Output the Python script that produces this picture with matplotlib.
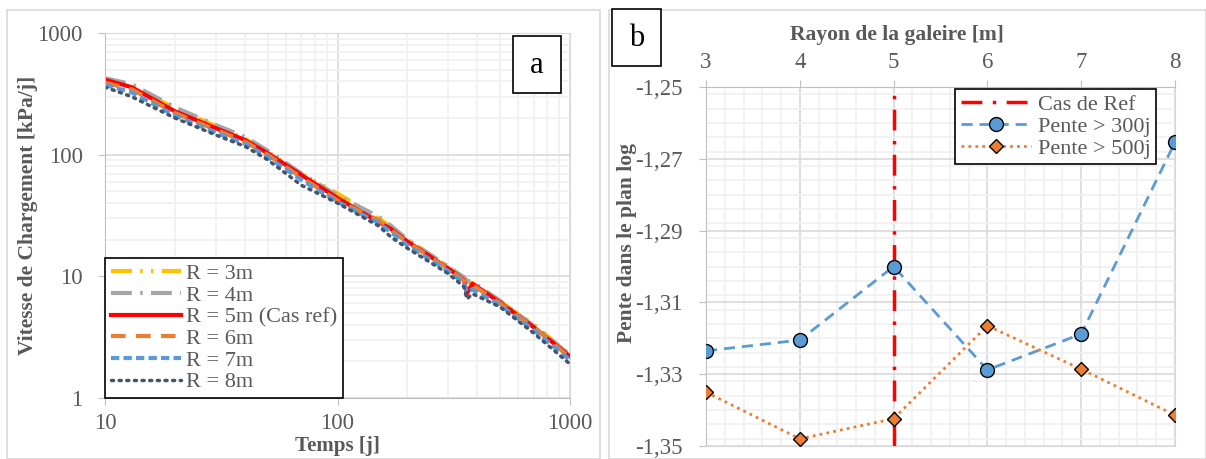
import matplotlib
matplotlib.use('Agg')
import matplotlib.pyplot as plt
from matplotlib.patches import Rectangle
from matplotlib.ticker import LogLocator, FixedLocator, MultipleLocator, FuncFormatter, NullFormatter

plt.rcParams['font.family'] = ['Liberation Serif', 'DejaVu Serif']

#Data of panel a : loading rate vs time for each gallery radius
temps = [10, 13, 20, 30, 40, 50, 70, 100, 150, 170, 200, 300, 350, 360, 380, 500, 700, 1000]
r3 = [410, 370, 240, 172, 135, 106, 69, 48, 30, 25.5, 20, 12, 9.6, 9.0, 8.8, 6.2, 4.0, 2.25]
r4 = [425, 380, 245, 175, 140, 108, 70, 46, 31, 26, 20, 12, 9.8, 9.2, 9.0, 6.3, 3.9, 2.25]
r5 = [413, 359, 227, 165, 132, 103, 68, 44, 28, 24.5, 19.3, 11.6, 9.3, 7.2, 8.7, 6.1, 3.8, 2.2]
r6 = [390, 345, 220, 160, 128, 100, 65, 42, 29, 24, 19, 11.5, 9.2, 8.5, 8.5, 6.0, 3.8, 2.15]
r7 = [375, 325, 210, 152, 123, 96, 62, 41, 27.5, 23, 18, 11, 8.8, 7.5, 7.8, 5.8, 3.6, 2.05]
r8 = [359, 300, 200, 145, 117, 91, 56, 40, 26, 21, 17, 10.5, 8.2, 6.5, 7.2, 5.6, 3.4, 1.9]

#Data of panel b : slope in log plane vs radius
rayon = [3, 4, 5, 6, 7, 8]
pente300 = [-1.3235, -1.3205, -1.300, -1.3288, -1.3188, -1.2654]
pente500 = [-1.335, -1.348, -1.3424, -1.3165, -1.3286, -1.3414]
pente_ticks = [-1.35, -1.33, -1.31, -1.29, -1.27, -1.25]

txtgray = '#595959'
W, H = 1206, 459
fig = plt.figure(figsize=(W/100, H/100), dpi=100)

#panel frames
fig.patches.append(Rectangle((7/W, 0), 593/W, 1 - 10/H, transform=fig.transFigure,
                             fill=False, edgecolor='#D9D9D9', lw=1.2))
fig.patches.append(Rectangle((609/W, 0), 597/W, 1 - 10/H, transform=fig.transFigure,
                             fill=False, edgecolor='#D9D9D9', lw=1.2))

###########################################################################
# panel a
ax1 = fig.add_axes([105/W, 1 - 398/H, 465/W, 365/H])
ax1.set_xscale('log')
ax1.set_yscale('log')
ax1.set_xlim(10, 1000)
ax1.set_ylim(1, 1000)

ax1.plot(temps, r3, color='#FFC000', lw=3, ls=(0, (5, 2, 0.6, 2, 0.6, 2)), label='R = 3m')
ax1.plot(temps, r4, color='#A5A5A5', lw=3, ls=(0, (5, 2, 0.6, 2)), label='R = 4m')
ax1.plot(temps, r5, color='#FF0000', lw=3, label='R = 5m (Cas ref)')
ax1.plot(temps, r6, color='#ED7D31', lw=3, ls=(0, (3.5, 2.5)), label='R = 6m')
ax1.plot(temps, r7, color='#5B9BD5', lw=3, ls=(0, (2, 1)), label='R = 7m')
ax1.plot(temps, r8, color='#44546A', lw=2.5, ls=(0, (0.6, 1.6)), dash_capstyle='round', label='R = 8m')

ax1.xaxis.set_minor_locator(LogLocator(base=10, subs=range(2, 10)))
ax1.yaxis.set_minor_locator(LogLocator(base=10, subs=range(2, 10)))
ax1.xaxis.set_minor_formatter(NullFormatter())
ax1.yaxis.set_minor_formatter(NullFormatter())
ax1.xaxis.set_major_formatter(FuncFormatter(lambda v, p: '%d' % v))
ax1.yaxis.set_major_formatter(FuncFormatter(lambda v, p: '%d' % v))
ax1.grid(True, which='major', color='#D9D9D9', lw=1.2)
ax1.grid(True, which='minor', color='#F0F0F0', lw=1.2)
ax1.set_axisbelow(True)
for s in ax1.spines.values():
    s.set_color('#D9D9D9')
ax1.spines['left'].set_color('#BFBFBF')
ax1.spines['bottom'].set_color('#BFBFBF')
ax1.tick_params(which='major', length=5, color='#BFBFBF', labelsize=16.5, labelcolor=txtgray)
ax1.tick_params(axis='x', which='major', pad=6)
ax1.tick_params(axis='y', which='major', pad=11)
ax1.tick_params(which='minor', length=0)
ax1.set_xlabel('Temps [j]', fontsize=15, fontweight='bold', color=txtgray, labelpad=1)
ax1.set_ylabel('Vitesse de Chargement [kPa/j]', fontsize=15.5, fontweight='bold', color=txtgray)
ax1.yaxis.set_label_coords(-0.145, 0.5)

leg1 = ax1.legend(loc='lower left', bbox_to_anchor=(0, 0), borderaxespad=0, fontsize=16,
                  handlelength=3.15, handletextpad=0.25, labelspacing=0.05, fancybox=False,
                  edgecolor='black', framealpha=1, borderpad=0.25)
leg1.get_frame().set_linewidth(1.2)
for t in leg1.get_texts():
    t.set_color(txtgray)

###########################################################################
# panel b
ax2 = fig.add_axes([706/W, 1 - 446/H, 469/W, 359/H])
ax2.axvline(5, color='#FF0000', lw=2.5, ls=(0, (6, 3, 1, 3)), label='Cas de Ref', zorder=2)
ax2.plot(rayon, pente300, color='#5B9BD5', lw=2, ls=(0, (4, 2.5)), marker='o', markersize=10,
         markerfacecolor='#5B9BD5', markeredgecolor='black', markeredgewidth=1, label='Pente > 300j', zorder=3)
ax2.plot(rayon, pente500, color='#ED7D31', lw=2, ls=(0, (1, 1.5)), marker='D', markersize=7,
         markerfacecolor='#ED7D31', markeredgecolor='black', markeredgewidth=1, label='Pente > 500j', zorder=3)

ax2.set_xlim(3, 8)
ax2.set_ylim(-1.35, -1.25)
ax2.xaxis.set_major_locator(FixedLocator(rayon))
ax2.xaxis.set_minor_locator(MultipleLocator(0.2))
ax2.yaxis.set_major_locator(FixedLocator(pente_ticks))
ax2.yaxis.set_minor_locator(MultipleLocator(0.004))
ax2.yaxis.set_major_formatter(FuncFormatter(lambda v, p: ('%.2f' % v).replace('.', ',')))
ax2.xaxis.tick_top()
ax2.xaxis.set_label_position('top')
ax2.grid(True, which='major', color='#D9D9D9', lw=1.2)
ax2.grid(True, which='minor', color='#F0F0F0', lw=1.2)
ax2.set_axisbelow(True)
for s in ax2.spines.values():
    s.set_color('#D9D9D9')
ax2.spines['left'].set_color('#BFBFBF')
ax2.spines['top'].set_color('#BFBFBF')
ax2.tick_params(which='major', length=5, color='#BFBFBF', labelsize=16.5, labelcolor=txtgray)
ax2.tick_params(axis='x', which='major', pad=5)
ax2.tick_params(axis='y', which='major', pad=12)
ax2.tick_params(which='minor', length=0)
ax2.set_xlabel('Rayon de la galeire [m]', fontsize=15.5, fontweight='bold', color=txtgray)
ax2.xaxis.set_label_coords(0.407, 1.131)
ax2.set_ylabel('Pente dans le plan log', fontsize=15.5, fontweight='bold', color=txtgray)
ax2.yaxis.set_label_coords(-0.147, 0.565)

leg2 = ax2.legend(loc='upper right', bbox_to_anchor=(0.9595, 0.994), borderaxespad=0, fontsize=16,
                  handlelength=3.15, handletextpad=0.3, labelspacing=0.05, fancybox=False,
                  edgecolor='black', framealpha=1, borderpad=0.25)
leg2.get_frame().set_linewidth(1.2)
for t in leg2.get_texts():
    t.set_color(txtgray)

###########################################################################
# labels a and b in boxes
fig.patches.append(Rectangle((513/W, 1 - 93/H), 48/W, 57/H, transform=fig.transFigure,
                             facecolor='white', edgecolor='black', lw=1.2, zorder=5))
fig.text(537/W, 1 - 66/H, 'a', fontsize=22, ha='center', va='center', zorder=6)
fig.patches.append(Rectangle((612/W, 1 - 66/H), 49/W, 57/H, transform=fig.transFigure,
                             facecolor='white', edgecolor='black', lw=1.2, zorder=5))
fig.text(637/W, 1 - 38/H, 'b', fontsize=22, ha='center', va='center', zorder=6)

fig.savefig('out.png', dpi=100)
